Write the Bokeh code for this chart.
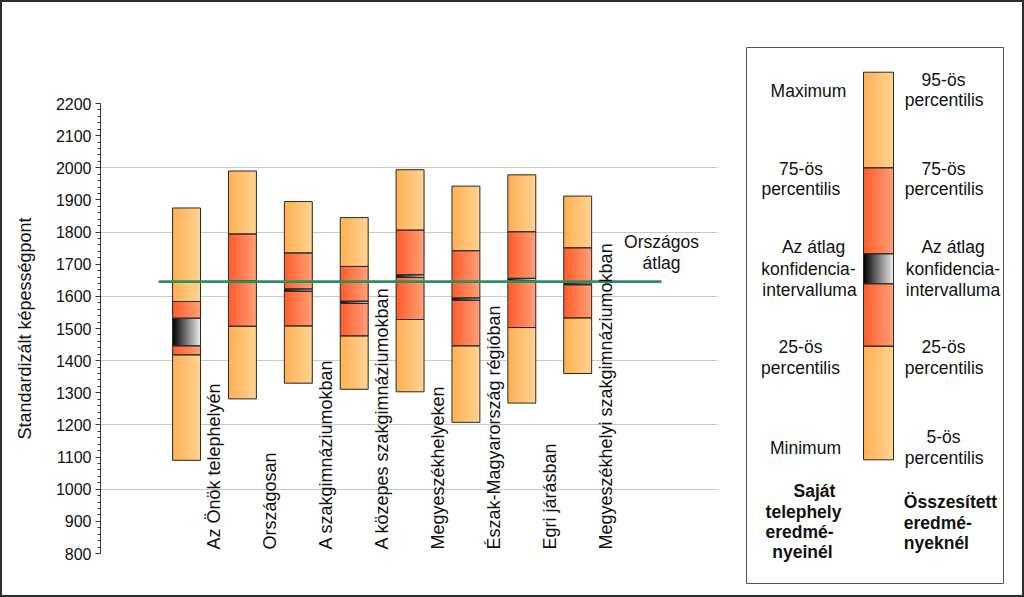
import math
from bokeh.plotting import figure
from bokeh.models import Range1d, SingleIntervalTicker
from bokeh.layouts import row
from bokeh.embed import file_html
from bokeh.resources import INLINE
from bokeh.core.properties import value

# ---------------- data ----------------
categories = [
    "Az Önök telephelyén",
    "Országosan",
    "A szakgimnáziumokban",
    "A közepes szakgimnáziumokban",
    "Megyeszékhelyeken",
    "Észak-Magyarország régióban",
    "Egri járásban",
    "Megyeszékhelyi szakgimnáziumokban",
]
low_end = [1090, 1281, 1330, 1311, 1303, 1208, 1268, 1360]     # minimum / 5th percentile
p25 = [1418, 1507, 1508, 1477, 1528, 1446, 1503, 1533]
ci_low = [1446, 1643, 1616, 1578, 1659, 1588, 1649, 1636]
ci_high = [1532, 1649, 1623, 1585, 1667, 1595, 1656, 1642]
p75 = [1584, 1794, 1735, 1693, 1806, 1742, 1801, 1751]
high_end = [1875, 1990, 1895, 1845, 1994, 1943, 1978, 1912]  # maximum / 95th percentile
national_avg = 1646
national_label = ["Országos", "átlag"]
y_title = "Standardizált képességpont"

legend_left = [["Maximum"], ["75-ös", "percentilis"], ["Az átlag", "konfidencia-", "intervalluma"],
               ["25-ös", "percentilis"], ["Minimum"]]
legend_right = [["95-ös", "percentilis"], ["75-ös", "percentilis"], ["Az átlag", "konfidencia-", "intervalluma"],
                ["25-ös", "percentilis"], ["5-ös", "percentilis"]]
legend_left_bold = ["Saját", "telephely", "eredmé-", "nyeinél"]
legend_right_bold = ["Összesített", "eredmé-", "nyeknél"]

# ---------------- style ----------------
FONT = "Liberation Sans"
ORANGE = ((255, 176, 84), (255, 212, 145))
RED = ((255, 92, 42), (255, 160, 120))
BLACK = ((0, 0, 0), (238, 238, 238))
EDGE = "#2a2a2a"
SHIFT = -6.5  # baseline correction (px)


def lerp(c1, c2, t):
    return "#%02x%02x%02x" % tuple(int(round(a + (b - a) * t)) for a, b in zip(c1, c2))


def draw_column(fig, xc, hw, levels, n=14):
    """levels = [low, p25, ci_lo, ci_hi, p75, high]"""
    segs = [(levels[0], levels[1], ORANGE), (levels[1], levels[2], RED),
            (levels[2], levels[3], BLACK), (levels[3], levels[4], RED),
            (levels[4], levels[5], ORANGE)]
    L, R, T, B, C = [], [], [], [], []
    for y0, y1, (cl, cr) in segs:
        for k in range(n):
            L.append(xc - hw + 2 * hw * k / n)
            R.append(xc + hw)
            T.append(y1)
            B.append(y0)
            C.append(lerp(cl, cr, (k + 0.5) / n))
    fig.quad(left=L, right=R, top=T, bottom=B, fill_color=C, line_color=None)
    fig.quad(left=[xc - hw] * 5, right=[xc + hw] * 5,
             top=[s[1] for s in segs], bottom=[s[0] for s in segs],
             fill_alpha=0, line_color=EDGE, line_width=1)


# ---------------- main chart ----------------
W1, H = 736, 593
p = figure(width=W1, height=H, output_backend="svg", toolbar_location=None,
           x_range=Range1d(-0.54, 10.52), y_range=Range1d(800, 2200),
           x_axis_location=None, min_border_left=98, min_border_right=20,
           min_border_top=101, min_border_bottom=42, frame_align=False)
p.outline_line_color = None
p.background_fill_color = "white"
p.border_fill_color = "white"
p.xgrid.visible = False

yax = p.yaxis[0]
yax.ticker = SingleIntervalTicker(interval=100, num_minor_ticks=5)
yax.major_label_text_font = FONT
yax.major_label_text_font_size = "16px"
yax.major_label_text_color = "#111111"
yax.major_tick_out = 5
yax.major_tick_in = 0
yax.minor_tick_out = 3
yax.minor_tick_in = 0
yax.major_label_standoff = 4
yax.axis_line_color = "#333333"
yax.major_tick_line_color = "#333333"
yax.minor_tick_line_color = "#333333"
yax.axis_label = y_title
yax.axis_label_text_font = FONT
yax.axis_label_text_font_size = "18px"
yax.axis_label_text_font_style = "normal"
yax.axis_label_text_color = "#111111"
yax.axis_label_standoff = 18

p.ygrid.ticker = SingleIntervalTicker(interval=200)
p.ygrid.grid_line_color = "#c8c8c8"
p.ygrid.grid_line_width = 1

for i in range(len(categories)):
    draw_column(p, i + 1, 0.25, [low_end[i], p25[i], ci_low[i], ci_high[i], p75[i], high_end[i]])

n = len(categories)
p.line([0.5, n + 1.5], [national_avg, national_avg], line_color="#2f8f5b", line_width=2.7)

p.text(x=[i + 1.5 for i in range(n)], y=[800] * n, text=categories, angle=math.pi / 2,
       y_offset=-4, text_align="left", text_baseline="middle",
       text_font=value(FONT), text_font_size="18px", text_color="#111111")

p.text(x=[n + 1.5] * 2, y=[national_avg] * 2, text=national_label,
       y_offset=[-33 + SHIFT, -12 + SHIFT],
       text_align="center", text_baseline="alphabetic",
       text_font=value(FONT), text_font_size="17.5px", text_color="#111111")

# ---------------- legend panel ----------------
W2 = 1020 - W1
lg = figure(width=W2, height=H, output_backend="svg", toolbar_location=None,
            x_range=Range1d(738, 1022), y_range=Range1d(595, 2),
            x_axis_location=None, y_axis_location=None, min_border=0, frame_align=False)
lg.outline_line_color = None
lg.grid.visible = False
lg.background_fill_color = "white"
lg.border_fill_color = "white"

lg.quad(left=[746], right=[1003], top=[47], bottom=[583], fill_alpha=0,
        line_color="#555555", line_width=1)
draw_column(lg, 878, 15, [459.3, 345.7, 283.3, 253.3, 167.3, 71.7])

left_x = [[808], [800.5, 800.3], [813, 808, 809], [800, 800], [805]]
left_y = [[97.3], [175, 195], [253.3, 275, 296], [353.3, 374], [454]]
right_x = [[943, 943.7], [943, 943.7], [952.5, 952.5, 952.5], [943, 943.7], [943, 943.7]]
right_y = [[85.7, 105.7], [175, 195], [253.3, 275, 296], [353.3, 374], [443.3, 464]]

tx, ty, tt = [], [], []
for grp, xs, ys in zip(legend_left, left_x, left_y):
    tx += xs; ty += [v + SHIFT for v in ys]; tt += grp
for grp, xs, ys in zip(legend_right, right_x, right_y):
    tx += xs; ty += [v + SHIFT for v in ys]; tt += grp
lg.text(x=tx, y=ty, text=tt, text_align="center", text_baseline="alphabetic",
        text_font=value(FONT), text_font_size="17.5px", text_color="#111111")

lg.text(x=[814, 803, 799, 802], y=[v + SHIFT for v in [497.3, 518.3, 538.3, 558.3]],
        text=legend_left_bold,
        text_align="center", text_baseline="alphabetic", text_font=value(FONT),
        text_font_style="bold", text_font_size="17.5px", text_color="#111111")
lg.text(x=[903.3] * 3, y=[v + SHIFT for v in [508.3, 529.3, 549.3]], text=legend_right_bold,
        text_align="left", text_baseline="alphabetic", text_font=value(FONT),
        text_font_style="bold", text_font_size="17.5px", text_color="#111111")

layout = row(p, lg, styles={"border": "2px solid #2e2e2e"})
open("out.html", "w").write(file_html(layout, INLINE))
